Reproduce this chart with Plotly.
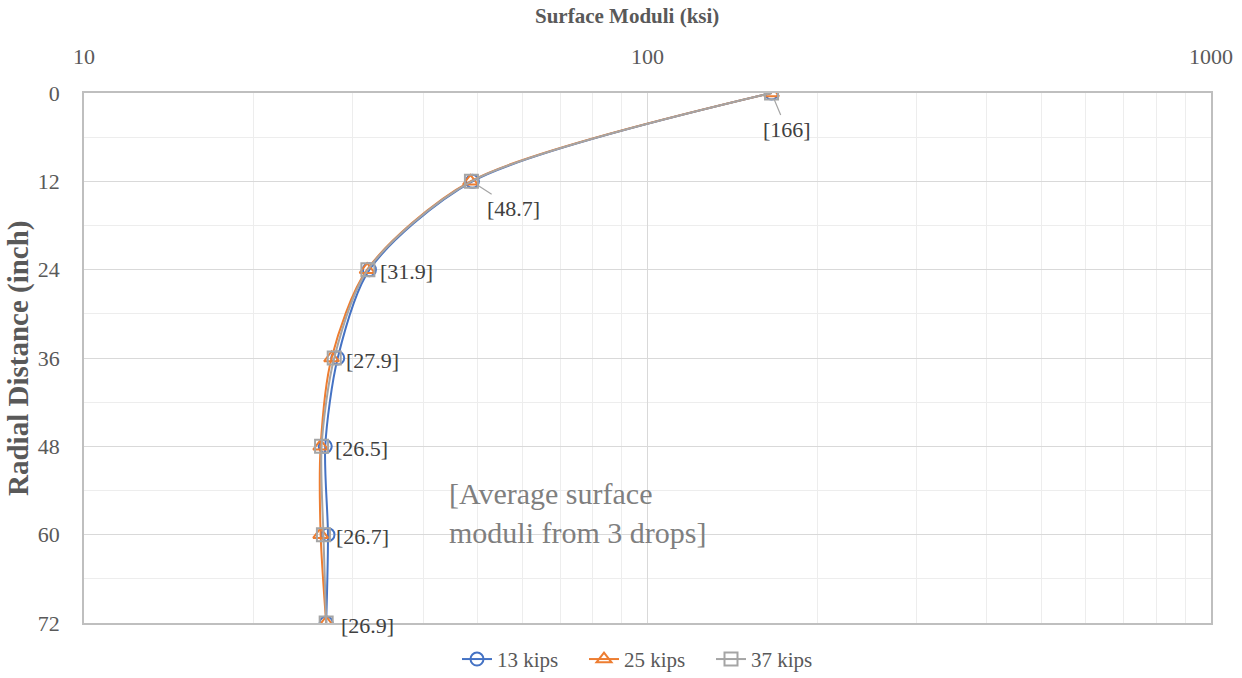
import math
import plotly.graph_objects as go

distance = [0, 12, 24, 36, 48, 60, 72]
mod_13 = [166, 48.9, 32.1, 28.2, 26.8, 27.1, 26.9]
mod_25 = [166, 48.5, 31.8, 27.5, 26.3, 26.3, 26.9]
mod_37 = [166, 48.7, 31.9, 27.8, 26.4, 26.6, 26.9]
labels = ["[166]", "[48.7]", "[31.9]", "[27.9]", "[26.5]", "[26.7]", "[26.9]"]
x_ticks = [10, 100, 1000]
x_minor = [20, 30, 40, 50, 60, 70, 80, 90, 200, 300, 400, 500, 600, 700, 800, 900]

FONT = "Liberation Serif, Times New Roman, serif"
fig = go.Figure()
series = [
    ("13 kips", mod_13, "#4472C4", "circle-open"),
    ("25 kips", mod_25, "#ED7D31", "triangle-up-open"),
    ("37 kips", mod_37, "#A5A5A5", "square-open"),
]
for name, vals, col, sym in series:
    fig.add_trace(go.Scatter(
        x=vals, y=distance, name=name, mode="lines+markers",
        line=dict(color=col, width=2, shape="spline", smoothing=0.8),
        marker=dict(symbol=sym, size=13, color=col, line=dict(width=2, color=col)),
    ))

# data labels (log axis annotations take log10 positions)
offsets = [(15, 36), (42, 27), (39, 0), (38, 0), (40, 0), (39, 0), (41, 0)]
for x, y, t, (ax, ay) in zip(mod_37, distance, labels, offsets):
    arrow = ay != 0
    fig.add_annotation(
        x=math.log10(x), y=y, xref="x", yref="y", text=t,
        showarrow=arrow, ax=ax, ay=ay, arrowhead=0, arrowwidth=1.2,
        arrowcolor="#A5A5A5", standoff=7,
        xshift=0 if arrow else ax, yshift=0 if arrow else -2,
        font=dict(family=FONT, size=22, color="#404040"),
    )

fig.add_annotation(
    x=0.322, y=0.2075, xref="paper", yref="paper", xanchor="left", yanchor="middle",
    text="[Average surface<br>moduli from 3 drops]", showarrow=False, align="left",
    font=dict(family=FONT, size=30, color="#7F7F7F"),
)
# axis titles
fig.add_annotation(
    x=0.482, y=1 + (93 - 16) / 530, xref="paper", yref="paper",
    xanchor="center", yanchor="middle", showarrow=False,
    text="<b>Surface Moduli (ksi)</b>",
    font=dict(family=FONT, size=21, color="#595959"),
)
fig.add_annotation(
    x=(18 - 84) / 1127, y=0.5, xref="paper", yref="paper",
    xanchor="center", yanchor="middle", showarrow=False, textangle=-90,
    text="<b>Radial Distance (inch)</b>",
    font=dict(family=FONT, size=29, color="#595959"),
)

fig.update_layout(
    width=1242, height=678,
    margin=dict(l=84, r=31, t=93, b=55, autoexpand=False),
    paper_bgcolor="white", plot_bgcolor="white",
    font=dict(family=FONT, color="#595959", size=20),
    showlegend=True,
    legend=dict(orientation="h", x=0.5, xanchor="center", y=-0.03, yanchor="top",
                font=dict(family=FONT, size=21, color="#595959"),
                itemwidth=30, entrywidth=82, entrywidthmode="pixels"),
)
fig.update_xaxes(
    type="log", range=[1, 3], side="top",
    tickvals=x_ticks, ticktext=[str(v) for v in x_ticks],
    tickfont=dict(family=FONT, size=22, color="#595959"),
    showgrid=True, gridcolor="#D9D9D9", gridwidth=1,
    minor=dict(tickvals=x_minor, showgrid=True, gridcolor="#EDEDED", gridwidth=1, ticks=""),
    showline=True, linecolor="#BFBFBF", linewidth=1.5, mirror=True,
    ticks="", zeroline=False, ticklabelstandoff=18,
)
fig.update_yaxes(
    range=[72, 0], tickvals=distance, ticktext=[str(v) for v in distance],
    tickfont=dict(family=FONT, size=22, color="#595959"),
    showgrid=True, gridcolor="#D9D9D9", gridwidth=1,
    minor=dict(dtick=6, showgrid=True, gridcolor="#EDEDED", gridwidth=1, ticks=""),
    showline=True, linecolor="#BFBFBF", linewidth=1.5, mirror=True,
    ticks="", zeroline=False, ticklabelstandoff=18,
)
fig.write_html("out.html")
